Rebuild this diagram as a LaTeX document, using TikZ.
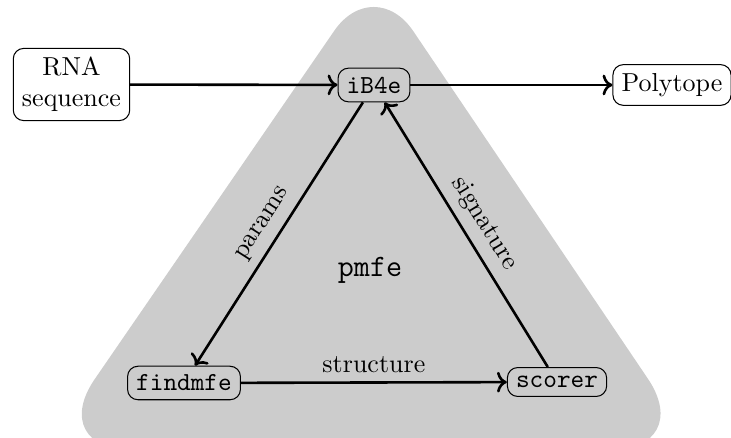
\documentclass[tikz,border=0pt]{standalone}
\usetikzlibrary{arrows.meta}
\begin{document}
\begin{tikzpicture}[x=0.3846pt,y=-0.3846pt,
  box/.style={draw, rounded corners=4pt, inner sep=0.3333em, align=center},
  link/.style={->, line width=1pt},
  lab/.style={sloped, above, midway}]
\clip (0,0) rectangle (731,438);
\useasboundingbox (0,0) rectangle (731,438);
\fill[black!20] (371,450) [rounded corners=33pt] -- (696,450) [rounded corners=27pt] -- (374,-27) [rounded corners=33pt] -- (46,450) [sharp corners] -- cycle;
\node[box] (rna) at (71.5,84.5) {RNA\\sequence};
\node[box] (ib) at (374,85) {\ttfamily iB4e};
\node[box] (poly) at (672,85) {Polytope};
\node[box] (find) at (184,383) {\ttfamily findmfe};
\node[box] (score) at (557,382) {\ttfamily scorer};
\node (pmfe) at (370,270) {\large\ttfamily pmfe};
\draw[link] (rna) -- (ib);
\draw[link] (ib) -- (poly);
\draw[link] (ib) -- node[lab] {params} (find);
\draw[link] (find) -- node[lab] {structure} (score);
\draw[link] (score) -- node[lab] {signature} (ib);
\end{tikzpicture}
\end{document}
